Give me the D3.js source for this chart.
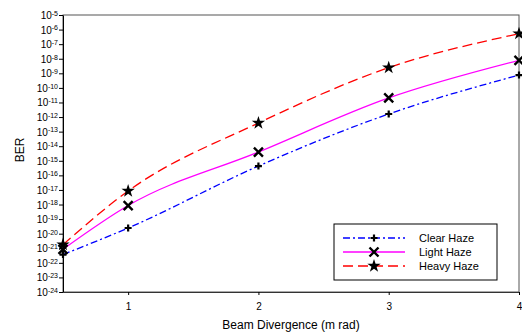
<!DOCTYPE html>
<html>
<head>
<meta charset="utf-8">
<script src="https://cdn.jsdelivr.net/npm/d3@7"></script>
<style>
  body { margin: 0; background: #fff; }
  svg { font-family: "Liberation Sans", Arial, sans-serif; }
</style>
</head>
<body>
<div id="chart"></div>
<script>
// beam divergence (m rad)
const divergence = [0.5, 1, 2, 3, 4];
// BER as log10 values
const clearHaze = [-21.43, -19.61, -15.36, -11.79, -9.12];
const lightHaze = [-21.07, -18.07, -14.4, -10.69, -8.11];
const heavyHaze = [-20.75, -17.07, -12.41, -8.61, -6.28];
const seriesNames = ['Clear Haze', 'Light Haze', 'Heavy Haze'];
const xTicks = [1, 2, 3, 4];
const yExponents = d3.range(-24, -4); // -24 ... -5

const margin = { top: 15, right: 3, bottom: 40, left: 63 };
const width = 522 - margin.left - margin.right;
const height = 332 - margin.top - margin.bottom;

const svg = d3.select('#chart').append('svg')
  .attr('width', 522)
  .attr('height', 332);

const g = svg.append('g')
  .attr('transform', `translate(${margin.left},${margin.top})`);

const x = d3.scaleLinear().domain([0.5, 4]).range([0, width]);
const y = d3.scaleLinear().domain([-24, -5]).range([height, 0]);

// frame (top and right)
g.append('rect')
  .attr('width', width)
  .attr('height', height)
  .attr('fill', 'none')
  .attr('stroke', '#555')
  .attr('stroke-width', 1);

// X axis
const xAxis = g.append('g')
  .attr('transform', `translate(0,${height})`)
  .call(d3.axisBottom(x).tickValues(xTicks).tickFormat(d3.format('d')).tickSize(3).tickSizeOuter(0));
xAxis.select('.domain').attr('stroke', '#333');
xAxis.selectAll('text').attr('font-size', 10).attr('fill', '#000').attr('dy', '1.2em');

// Y axis with superscript labels
const yAxis = g.append('g')
  .call(d3.axisLeft(y).tickValues(yExponents).tickSize(4).tickSizeOuter(0).tickFormat(''));
yAxis.select('.domain').attr('stroke', '#000');
yAxis.selectAll('.tick').append('text')
  .attr('x', -5)
  .attr('dy', '0.35em')
  .attr('text-anchor', 'end')
  .attr('font-size', 10)
  .attr('fill', '#000')
  .each(function (d) {
    const t = d3.select(this);
    t.append('tspan').text('10');
    t.append('tspan').attr('dy', '-0.45em').attr('font-size', 7).text(d);
  });

// Axis labels
svg.append('text')
  .attr('x', margin.left + width / 2)
  .attr('y', 329)
  .attr('text-anchor', 'middle')
  .attr('font-size', 12)
  .text('Beam Divergence (m rad)');

svg.append('text')
  .attr('transform', 'rotate(-90)')
  .attr('x', -150)
  .attr('y', 24)
  .attr('text-anchor', 'middle')
  .attr('font-size', 12)
  .text('BER');

// Series
const series = [
  { name: seriesNames[0], values: clearHaze, color: '#0000ff', dash: '7,3,2,3', marker: 'plus' },
  { name: seriesNames[1], values: lightHaze, color: '#ff00ff', dash: null, marker: 'cross' },
  { name: seriesNames[2], values: heavyHaze, color: '#ff0000', dash: '10,5', marker: 'star' }
];

const line = d3.line()
  .x(d => x(d[0]))
  .y(d => y(d[1]))
  .curve(d3.curveMonotoneX);

function drawMarker(sel, type, cx, cy) {
  if (type === 'plus') {
    sel.append('path')
      .attr('d', `M${cx - 3.5},${cy}H${cx + 3.5}M${cx},${cy - 3.5}V${cy + 3.5}`)
      .attr('stroke', '#000').attr('stroke-width', 2.2);
  } else if (type === 'cross') {
    sel.append('path')
      .attr('d', `M${cx - 4.5},${cy - 4.5}L${cx + 4.5},${cy + 4.5}M${cx - 4.5},${cy + 4.5}L${cx + 4.5},${cy - 4.5}`)
      .attr('stroke', '#000').attr('stroke-width', 2.4);
  } else {
    sel.append('path')
      .attr('d', d3.symbol(d3.symbolStar, 55)())
      .attr('transform', `translate(${cx},${cy})`)
      .attr('fill', '#000');
  }
}

series.forEach(s => {
  const pts = divergence.map((d, i) => [d, s.values[i]]);
  g.append('path')
    .datum(pts)
    .attr('d', line)
    .attr('fill', 'none')
    .attr('stroke', s.color)
    .attr('stroke-width', 1.3)
    .attr('stroke-dasharray', s.dash);
  const mg = g.append('g');
  pts.forEach(p => drawMarker(mg, s.marker, x(p[0]), y(p[1])));
});

// Legend
const legend = svg.append('g').attr('transform', 'translate(334,224)');
legend.append('rect')
  .attr('width', 163)
  .attr('height', 56)
  .attr('fill', '#fff')
  .attr('stroke', '#000')
  .attr('stroke-width', 1);
series.forEach((s, i) => {
  const ly = 14 + i * 14;
  legend.append('line')
    .attr('x1', 9).attr('x2', 71)
    .attr('y1', ly).attr('y2', ly)
    .attr('stroke', s.color)
    .attr('stroke-width', 1.3)
    .attr('stroke-dasharray', s.dash);
  drawMarker(legend, s.marker, 40, ly);
  legend.append('text')
    .attr('x', 85)
    .attr('y', ly)
    .attr('dy', '0.35em')
    .attr('font-size', 11)
    .text(s.name);
});
</script>
</body>
</html>
